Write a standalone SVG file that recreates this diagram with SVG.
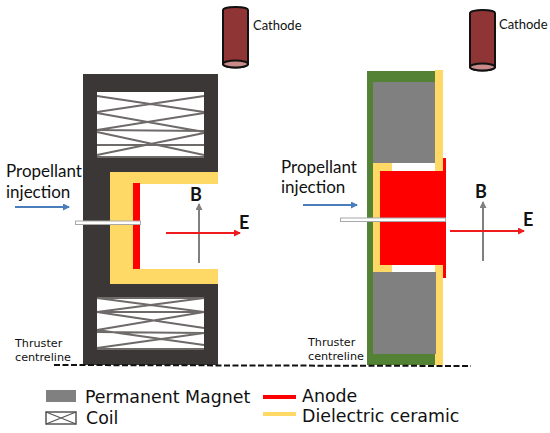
<svg xmlns="http://www.w3.org/2000/svg" width="550" height="433" viewBox="0 0 550 433">
<style>
text{font-family:"Lato","Open Sans",sans-serif;fill:#111}
.s{font-size:13px}.m{font-size:17px}
.t{font-family:"DejaVu Sans",sans-serif;font-size:11.200px}
.l{font-family:"DejaVu Sans",sans-serif;font-size:17.400px}
.bf{font-weight:700;font-size:18px}
.c{fill:none;stroke:#6f6a6a;stroke-width:1.800}
.cb{fill:#8f3535;stroke:#111;stroke-width:2}
.ct{fill:#c98a8a;stroke:#111;stroke-width:2}
</style>
<defs>
<marker id="ar" markerUnits="userSpaceOnUse" markerWidth="7" markerHeight="7" refX="6" refY="3.500" orient="auto"><path d="M0 0L7 3.500L0 7Z" fill="#ee1c1c"/></marker>
<marker id="ag" markerUnits="userSpaceOnUse" markerWidth="7" markerHeight="7" refX="6" refY="3.500" orient="auto"><path d="M0 0L7 3.500L0 7Z" fill="#808080"/></marker>
<marker id="ab" markerUnits="userSpaceOnUse" markerWidth="7" markerHeight="7" refX="6" refY="3.500" orient="auto"><path d="M0 0L7 3.500L0 7Z" fill="#4a7ebb"/></marker>
</defs>
<g id="left-thruster">
<path d="M83 74H218V183H110V283H218V365H83Z" fill="#3b3736"/>
<rect x="110" y="172" width="108" height="12" fill="#ffd966"/>
<rect x="110" y="172" width="24" height="111" fill="#ffd966"/>
<rect x="110" y="269" width="108" height="15" fill="#ffd966"/>
<rect x="133" y="183" width="7" height="86" fill="#ff0000"/>
<rect x="97" y="92" width="107" height="65" fill="#fff"/>
<path class="c" d="M97 96L204 112M97 112L204 96M97 113L204 132M97 130L204 113M97 130L204 131M97 145H204M97 132L204 155M97 155L204 133M97 157H204"/>
<rect x="97" y="298" width="107" height="52" fill="#fff"/>
<path class="c" d="M97 298H204M97 298L204 312M97 312L204 298M97 312H204M97 312L204 328M97 330L204 312M97 330L204 345M97 332L204 333M97 348L204 333M97 349H204"/>
<rect x="75.500" y="221" width="65" height="3.500" fill="#fff" stroke="#a8a8a8"/>
</g>
<g id="right-thruster">
<rect x="367" y="71" width="68" height="294" fill="#548235"/>
<rect x="435" y="70" width="8" height="295" fill="#ffd966"/>
<rect x="373" y="82" width="62" height="81" fill="#808080"/>
<rect x="373" y="272" width="63" height="82" fill="#808080"/>
<rect x="373" y="163" width="19" height="109" fill="#ffd966"/>
<rect x="392" y="163" width="43" height="8" fill="#fff"/>
<rect x="392" y="265" width="43" height="7" fill="#fff"/>
<rect x="380" y="171" width="66" height="94" fill="#f00"/>
<rect x="443" y="158" width="3" height="120" fill="#f00"/>
<rect x="340.500" y="218" width="105" height="3.500" fill="#fff" stroke="#a8a8a8"/>
</g>
<g id="cathode-left">
<path class="cb" d="M223 10A12.500 3 0 0 1 248 10V64A12.500 3.500 0 0 1 223 64Z"/>
<ellipse class="ct" cx="235.500" cy="64" rx="12.500" ry="3.500"/>
<text class="s" x="253" y="30">Cathode</text>
</g>
<g id="cathode-right">
<path class="cb" d="M470 13A12.500 3 0 0 1 495 13V67A12.500 3.500 0 0 1 470 67Z"/>
<ellipse class="ct" cx="482.500" cy="67" rx="12.500" ry="3.500"/>
<text class="s" x="499" y="29">Cathode</text>
</g>
<g id="connectors">
<line x1="15" y1="207" x2="69" y2="207" stroke="#4a7ebb" stroke-width="2" marker-end="url(#ab)"/>
<line x1="303" y1="205" x2="357" y2="205" stroke="#4a7ebb" stroke-width="2" marker-end="url(#ab)"/>
<line x1="199" y1="263" x2="199" y2="204" stroke="#808080" stroke-width="2" marker-end="url(#ag)"/>
<line x1="166" y1="233" x2="240" y2="233" stroke="#ee1c1c" stroke-width="2" marker-end="url(#ar)"/>
<line x1="483" y1="261" x2="483" y2="202" stroke="#808080" stroke-width="2" marker-end="url(#ag)"/>
<line x1="450" y1="231" x2="524" y2="231" stroke="#ee1c1c" stroke-width="2" marker-end="url(#ar)"/>
<line x1="54" y1="365" x2="471" y2="366" stroke="#111" stroke-width="2" stroke-dasharray="6 2.500"/>
</g>
<g id="labels">
<text class="m" x="6" y="177">Propellant</text>
<text class="m" x="6" y="198">injection</text>
<text class="m" x="281" y="173">Propellant</text>
<text class="m" x="281" y="193">injection</text>
<text class="bf" x="190" y="201">B</text>
<text class="bf" x="239" y="229">E</text>
<text class="bf" x="475" y="198">B</text>
<text class="bf" x="523" y="226">E</text>
<text class="t" x="15" y="347">Thruster</text>
<text class="t" x="15" y="361">centreline</text>
<text class="t" x="308" y="346">Thruster</text>
<text class="t" x="308" y="360">centreline</text>
</g>
<g id="legend">
<rect x="46" y="390" width="30" height="12" fill="#808080"/>
<rect x="46" y="412" width="30" height="12" fill="#fff" stroke="#555" stroke-width="1.500"/>
<path d="M46 412L76 424M46 424L76 412" stroke="#555" stroke-width="1.200" fill="none"/>
<rect x="263" y="395" width="33" height="4" fill="#f00"/>
<rect x="263" y="412" width="33" height="4" fill="#ffd966"/>
<text class="l" x="85" y="403">Permanent Magnet</text>
<text class="l" x="86" y="424">Coil</text>
<text class="l" x="302" y="402">Anode</text>
<text class="l" x="302" y="422">Dielectric ceramic</text>
</g>
</svg>
